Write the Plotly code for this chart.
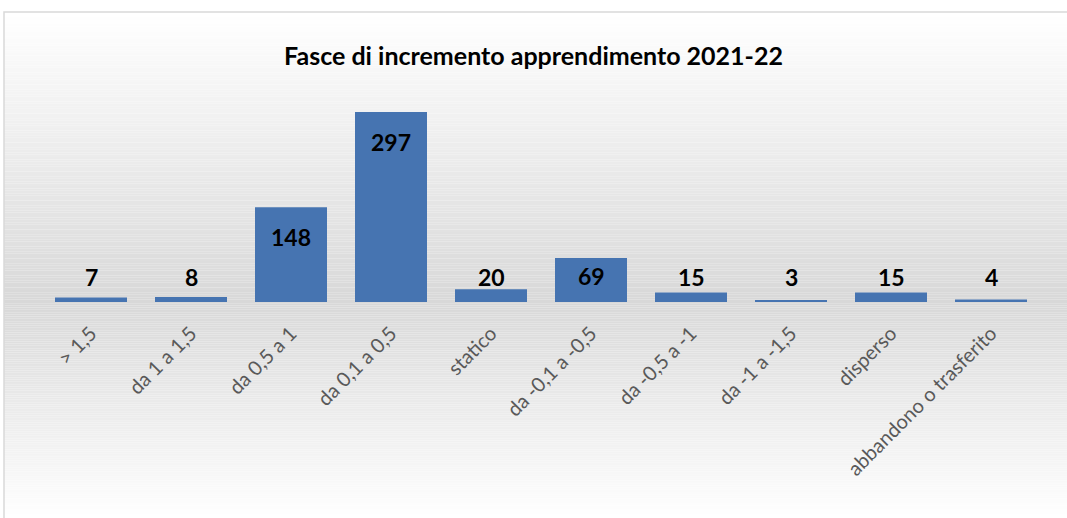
import plotly.graph_objects as go

categories = ["> 1,5", "da 1 a 1,5", "da 0,5 a 1", "da 0,1 a 0,5", "statico",
              "da -0,1 a -0,5", "da -0,5 a -1", "da -1 a -1,5", "disperso",
              "abbandono o trasferito"]
values = [7, 8, 148, 297, 20, 69, 15, 3, 15, 4]

W, H = 1067, 518
ml, mr, mt, mb = 41, 26, 91, 216
plot_h = H - mt - mb


def py_to_paper(py):
    return (H - mb - py) / plot_h


def px_to_paper(px):
    return (px - ml) / (W - ml - mr)


fig = go.Figure()
fig.add_trace(go.Bar(x=categories, y=values, marker_color="#4674b1",
                     marker_line_width=0, width=0.72, hoverinfo="x+y"))

# data labels: inside the tall bars, short ones share one row above the bars
small_top = max(v for v in values if v <= 50)
for c, v in zip(categories, values):
    inside = v > 50
    fig.add_annotation(x=c, y=v if inside else small_top, text=f"<b>{v}</b>",
                       showarrow=False,
                       yanchor="top" if inside else "bottom",
                       yshift=(-14 if v > 100 else -2) if inside else -4,
                       font=dict(family="Lato", size=23, color="black"))

# soft vertical gradient behind the chart (white -> grey -> white)
shapes = []
top, mid, bot = 12, 302, 518
n = 120
for i in range(n):
    y0 = top + (mid - top) * i / n
    y1 = top + (mid - top) * (i + 1) / n
    g = round(255 - (255 - 216) * (i + 0.5) / n)
    shapes.append(dict(type="rect", xref="paper", yref="paper", layer="below",
                       x0=px_to_paper(4), x1=px_to_paper(1070),
                       y0=py_to_paper(y1), y1=py_to_paper(y0),
                       fillcolor=f"rgb({g},{g},{g})", line_width=0))
for i in range(n):
    y0 = mid + (bot - mid) * i / n
    y1 = mid + (bot - mid) * (i + 1) / n
    g = round(216 + (255 - 216) * (i + 0.5) / n)
    shapes.append(dict(type="rect", xref="paper", yref="paper", layer="below",
                       x0=px_to_paper(4), x1=px_to_paper(1070),
                       y0=py_to_paper(y1), y1=py_to_paper(y0),
                       fillcolor=f"rgb({g},{g},{g})", line_width=0))
shapes.append(dict(type="rect", xref="paper", yref="paper", layer="above",
                   x0=px_to_paper(4), x1=px_to_paper(1075),
                   y0=py_to_paper(525), y1=py_to_paper(12),
                   fillcolor="rgba(0,0,0,0)", line=dict(color="#d9d9d9", width=1.5)))

fig.update_layout(
    width=W, height=H,
    margin=dict(l=ml, r=mr, t=mt, b=mb),
    paper_bgcolor="white", plot_bgcolor="rgba(0,0,0,0)",
    title=dict(text="<b>Fasce di incremento apprendimento 2021-22</b>",
               x=0.5, xanchor="center", y=1 - 56 / H, yanchor="middle",
               font=dict(family="Lato", size=25, color="black")),
    xaxis=dict(tickangle=-45, showgrid=False, showline=False, ticks="",
               tickfont=dict(family="Lato", size=20, color="#595959"),
               ticklabelstandoff=15),
    yaxis=dict(range=[0, 330], visible=False, showgrid=False),
    shapes=shapes,
    bargap=0.28,
    showlegend=False,
)

fig.write_html("out.html", config={"displayModeBar": False},
               post_script="document.body.style.margin='0';")
